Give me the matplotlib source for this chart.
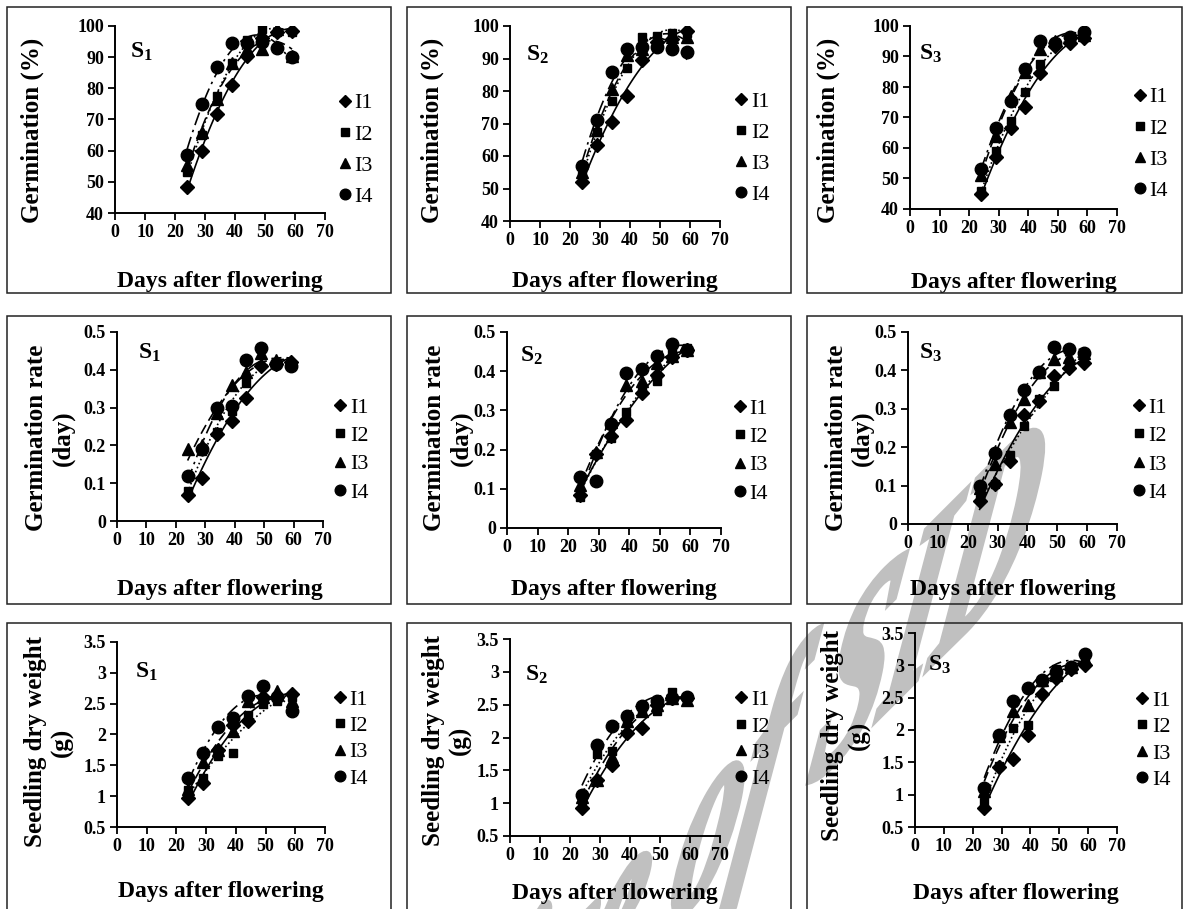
import numpy as np
import matplotlib
matplotlib.use('Agg')
import matplotlib.pyplot as plt
from matplotlib.patches import Rectangle, PathPatch
from matplotlib.lines import Line2D
from matplotlib.ticker import FuncFormatter
from matplotlib.textpath import TextPath
from matplotlib.font_manager import FontProperties
from matplotlib.transforms import Affine2D

plt.rcParams['font.family'] = ['Liberation Serif', 'DejaVu Serif']
plt.rcParams['font.weight'] = 'bold'
plt.rcParams['mathtext.fontset'] = 'custom'
plt.rcParams['mathtext.rm'] = 'Liberation Serif'
plt.rcParams['mathtext.bf'] = 'Liberation Serif:bold'

# ---- data ----
days = [24, 29, 34, 39, 44, 49, 54, 59]
treatments = ['I1', 'I2', 'I3', 'I4']

# germination (%) : rows I1..I4
germ_s1 = [[48.2, 60, 71.8, 81, 90.5, 96, 98, 98.5],
           [53, 65, 77.5, 88, 95.5, 99, 98, 98],
           [55.5, 66, 76.5, 88, 92.5, 92.5, 99, 90.5],
           [58.7, 75, 87, 94.5, 94.5, 95, 93, 90]]
germ_s2 = [[52, 63.5, 70.6, 78.6, 89.5, 95, 96, 98.5],
           [54, 67.5, 77, 87, 96.5, 97, 98, 98],
           [55, 68, 80.5, 91, 93, 95.5, 96.5, 96.5],
           [57, 71, 86, 93, 93.5, 93.5, 93, 92]]
germ_s3 = [[45, 57, 66.5, 73.5, 84.5, 93.5, 94.5, 96],
           [46, 59, 69, 78.5, 87.5, 94, 95.5, 96.5],
           [51, 64, 77, 85, 92.5, 95, 96, 97],
           [53, 66.5, 75.5, 86, 95, 94.5, 96.5, 98]]

# germination rate (day)
rate_s1 = [[0.07, 0.115, 0.23, 0.265, 0.325, 0.41, 0.415, 0.42],
           [0.08, 0.185, 0.235, 0.29, 0.365, 0.455, 0.415, 0.415],
           [0.19, 0.2, 0.285, 0.36, 0.395, 0.445, 0.425, 0.42],
           [0.12, 0.19, 0.3, 0.305, 0.425, 0.458, 0.415, 0.41]]
rate_s2 = [[0.085, 0.19, 0.235, 0.275, 0.345, 0.39, 0.435, 0.455],
           [0.08, 0.19, 0.23, 0.295, 0.355, 0.375, 0.45, 0.46],
           [0.11, 0.195, 0.27, 0.365, 0.375, 0.42, 0.44, 0.455],
           [0.13, 0.12, 0.265, 0.395, 0.405, 0.44, 0.47, 0.455]]
rate_s3 = [[0.06, 0.105, 0.165, 0.285, 0.32, 0.385, 0.405, 0.42],
           [0.065, 0.105, 0.18, 0.255, 0.325, 0.36, 0.42, 0.44],
           [0.095, 0.155, 0.265, 0.325, 0.395, 0.43, 0.435, 0.445],
           [0.1, 0.185, 0.285, 0.35, 0.395, 0.46, 0.455, 0.445]]

# seedling dry weight (g)
sdw_s1 = [[0.97, 1.22, 1.75, 2.15, 2.22, 2.6, 2.6, 2.65],
          [1.1, 1.3, 1.65, 1.7, 2.32, 2.5, 2.55, 2.6],
          [1.12, 1.55, 1.75, 2.05, 2.55, 2.6, 2.7, 2.55],
          [1.3, 1.7, 2.12, 2.27, 2.62, 2.78, 2.6, 2.38]]
sdw_s2 = [[0.92, 1.35, 1.58, 2.07, 2.15, 2.5, 2.6, 2.6],
          [1.05, 1.75, 1.8, 2.25, 2.4, 2.4, 2.7, 2.6],
          [1.1, 1.35, 1.7, 2.25, 2.4, 2.5, 2.6, 2.57],
          [1.13, 1.88, 2.17, 2.32, 2.48, 2.55, 2.6, 2.62]]
sdw_s3 = [[0.8, 1.43, 1.55, 1.92, 2.55, 2.8, 2.95, 3.0],
          [0.88, 1.45, 2.03, 2.07, 2.75, 2.95, 2.95, 3.05],
          [1.05, 1.9, 2.3, 2.38, 2.78, 2.85, 2.97, 3.1],
          [1.1, 1.92, 2.45, 2.65, 2.77, 2.9, 2.97, 3.18]]

panels = [germ_s1, germ_s2, germ_s3, rate_s1, rate_s2, rate_s3, sdw_s1, sdw_s2, sdw_s3]
site_labels = [r'$\mathbf{S_1}$', r'$\mathbf{S_2}$', r'$\mathbf{S_3}$']
ylabels = ['Germination (%)', 'Germination rate\n(day)', 'Seedling dry weight\n(g)']
ylims = [(40, 100), (0, 0.5), (0.5, 3.5)]
ysteps = [10, 0.1, 0.5]

# ---- layout (pixels) ----
W, H = 1184, 909
# x of 0, x of 70, y of top, y of bottom
ax_px = [(115, 325, 26, 213), (510, 720, 26, 221), (910, 1117, 26, 209),
         (117, 323, 332, 521), (507, 721, 332, 528), (908, 1117, 332, 524),
         (117, 325, 642, 827), (510, 720, 639, 836), (915, 1117, 633, 827)]
ylab_pos = [(-0.395, 0.444), (-0.371, 0.467), (-0.396, 0.432),
            (-0.325, 0.44), (-0.276, 0.46), (-0.282, 0.448),
            (-0.327, 0.46), (-0.30, 0.487), (-0.342, 0.474)]
xlab_y = [282, 282, 283, 590, 590, 590, 892, 893, 893]
s_pos = [(0.07, 0.86), (0.076, 0.85), (0.045, 0.85),
         (0.10, 0.89), (0.06, 0.88), (0.053, 0.89),
         (0.087, 0.84), (0.071, 0.82), (0.064, 0.835)]
leg_pos = [(1.062, 0.337), (1.07, 0.374), (1.077, 0.355),
           (1.05, 0.376), (1.056, 0.393), (1.072, 0.385),
           (1.038, 0.476), (1.07, 0.49), (1.09, 0.448)]
leg_spacing = [0.48, 0.35, 0.26]
box_cols = [(7, 391), (407, 791), (807, 1182)]
box_rows = [(7, 293), (316, 604), (623, 920)]

markers = ['D', 's', '^', 'o']
msizes = [7.0, 6.3, 8.0, 9.0]
lstyles = ['-', (0, (1, 1.6)), (0, (6, 3)), (0, (8, 3, 1.5, 3))]

fig = plt.figure(figsize=(W / 100, H / 100), dpi=100)

# watermark of the source archive (tilted, stretched italic text), behind the charts
wm_fp = FontProperties(family='Liberation Serif', style='italic', weight='bold')
wm_path = TextPath((0, 0), 'Archive of SID', size=1, prop=wm_fp)
tail = TextPath((0, 0), 'of SID', size=1, prop=wm_fp)
off = wm_path.get_extents().x1 - tail.get_extents().x1
wm_tr = (Affine2D().translate(-(off + 0.25), -0.23)
         + Affine2D(np.array([[130.0, 54.0, 709.0],
                              [130.0, 268.0, H - 838.0],
                              [0.0, 0.0, 1.0]])))
fig.add_artist(PathPatch(wm_path, transform=wm_tr, facecolor='#c0c0c0',
                         edgecolor='#c0c0c0', linewidth=3.5, zorder=-5))

# panel frames
for (y0, y1) in box_rows:
    for (x0, x1) in box_cols:
        fig.add_artist(Rectangle((x0 / W, 1 - y1 / H), (x1 - x0) / W, (y1 - y0) / H,
                                 transform=fig.transFigure, fill=False,
                                 edgecolor='#222222', linewidth=1.1))

xx = np.linspace(days[0], days[-1], 120)

for k, data in enumerate(panels):
    row, col = k // 3, k % 3
    x0, x70, yt, yb = ax_px[k]
    ax = fig.add_axes([x0 / W, 1 - yb / H, (x70 - x0) / W, (yb - yt) / H])
    ax.set_facecolor('none')

    for i, vals in enumerate(data):
        coef = np.polyfit(days, vals, 2)
        ax.plot(xx, np.polyval(coef, xx), color='black', lw=1.2,
                linestyle=lstyles[i], zorder=2)
        ax.plot(days, vals, linestyle='none', marker=markers[i], ms=msizes[i],
                color='black', zorder=3, label=treatments[i])

    ax.set_xlim(0, 70)
    ax.set_xticks(range(0, 71, 10))
    lo, hi = ylims[row]
    ax.set_ylim(lo, hi)
    ax.set_yticks(np.arange(lo, hi + ysteps[row] / 2, ysteps[row]))
    ax.yaxis.set_major_formatter(FuncFormatter(lambda v, p: '%g' % round(v, 2)))

    for s in ['top', 'right']:
        ax.spines[s].set_visible(False)
    for s in ['left', 'bottom']:
        ax.spines[s].set_linewidth(1.4)
    ax.tick_params(direction='out', length=5, width=1.3, labelsize=13, pad=3)

    ax.set_ylabel(ylabels[row], fontsize=18, fontweight='bold', linespacing=1.15,
                  va='center', ha='center', multialignment='center')
    ax.yaxis.set_label_coords(*ylab_pos[k])
    ax.set_xlabel('Days after flowering', fontsize=17, fontweight='bold', va='center')
    ax.xaxis.set_label_coords(0.5, (yb - xlab_y[k]) / (yb - yt))

    ax.text(s_pos[k][0], s_pos[k][1], site_labels[col], transform=ax.transAxes,
            fontsize=17, ha='left', va='center')

    handles = [Line2D([], [], linestyle='none', marker=markers[i], ms=msizes[i] * 0.85,
                      color='black') for i in range(4)]
    ax.legend(handles, treatments, loc='center left', bbox_to_anchor=leg_pos[k],
              frameon=False, prop={'size': 16, 'weight': 'normal'},
              handlelength=0.6, handletextpad=0.15,
              labelspacing=leg_spacing[row],
              borderaxespad=0, borderpad=0)

fig.savefig('out.png', dpi=100, facecolor='white')
